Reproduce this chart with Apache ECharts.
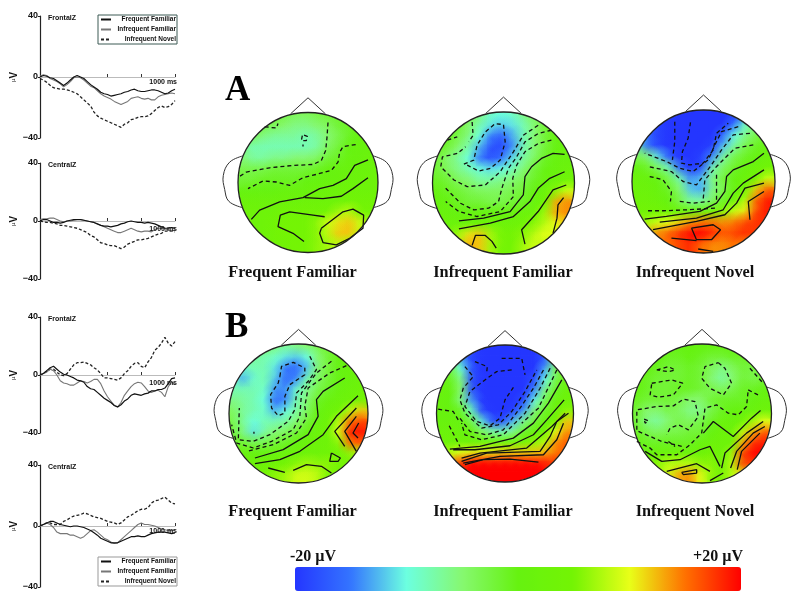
<!DOCTYPE html>
<html>
<head>
<meta charset="utf-8">
<style>
  html, body { margin: 0; padding: 0; background: #fff; }
  #main { width: 800px; height: 598px; }
</style>
<script src="https://cdn.jsdelivr.net/npm/echarts@6/dist/echarts.min.js"></script>
</head>
<body>
<div id="main"></div>
<script>
// ERP curves, sampled every 25 ms
const timeMs = [0,25,50,75,100,125,150,175,200,225,250,275,300,325,350,375,400,425,450,475,500,525,550,575,600,625,650,675,700,725,750,775,800,825,850,875,900,925,950,975,1000];

const aFzFreq = [0,1,0.5,-0.5,-1,-2.5,-4,-5.5,-4,-2,0,1,0,-1,-3,-5,-6.5,-8,-10,-11,-11.5,-12.5,-12,-11.5,-11,-10,-9.5,-8.5,-8,-9,-9.5,-9.5,-9,-8.5,-8.5,-9,-10,-11,-10.5,-9,-8];
const aFzInf = [0.5,1.5,1,-1,-2,-3,-4.5,-6.5,-5,-3,-0.5,0,-0.5,-2,-4,-6,-7,-9,-11,-12.5,-13.5,-14.5,-16,-17,-18,-17,-16,-14,-13.5,-13,-14,-14.5,-14,-15,-15,-13,-12,-11.5,-11,-10.5,-11];
const aFzNovel = [-1,-2,-3.5,-5.5,-7,-7.5,-8,-8,-8.5,-9,-10,-11,-13,-15,-17,-19,-23,-25.5,-27,-28,-29,-30,-31,-32,-33,-31,-30,-28,-27.5,-26.5,-26,-26,-25.5,-24,-22,-20,-19,-20,-19.5,-18,-15.5];

const aCzFreq = [0,1,1,0,-1,-1,-1.5,-1,0,0.5,1,1,1,0.5,0,-0.5,-1,-2,-3,-3.5,-3.5,-4,-3.5,-3,-2,-1.5,-0.5,0,-0.5,-1,-1,-1.5,-1,-1.5,-2,-3,-4,-5,-5,-4.5,-5];
const aCzInf = [1,1.5,1.5,2,2,1,0,-0.5,0,0,0.5,1,1,0.5,0,-0.5,-1,-2,-3,-4,-5,-6,-7,-8,-8,-7,-6,-5,-6,-7,-7.5,-7,-7,-7.5,-6,-5,-5,-5.5,-6,-7,-6];
const aCzNovel = [0,-0.5,-1,-1,-1.5,-2,-3,-3,-3.5,-4,-4.5,-5,-6,-7,-8,-10,-11,-13,-15,-15.5,-16.5,-17,-17,-18,-19,-18,-16,-15,-14,-13,-13,-12.5,-12,-11,-10,-9,-8.5,-7,-7,-7,-7.5];

const bFzFreq = [0,1,3,5,6,4,2,0.5,0,-1,-2,-3.5,-4,-5,-8,-9.5,-10,-12,-14,-16,-17.5,-19,-21,-22,-20.5,-18,-16.5,-14,-13,-13.5,-14,-13,-12.5,-11,-11,-10,-10,-9,-6,-2.5,-2];
const bFzInf = [0,1,2,4,3,0,-4,-5.5,-6,-7,-7,-5.5,-4,-4.5,-5.5,-4.5,-3,-3,-6,-11,-15,-18,-21,-22,-19,-14,-11,-8,-6,-5,-5.5,-8,-11,-12,-11,-10.5,-12,-15,-8,-5,-6.5];
const bFzNovel = [0,1,2.5,4,4,2,0,-0.5,1,4,7,8.5,8.5,9,8,7,5,3.5,1,-2,-2,-2.5,-3,-3.5,-2,1,3,6,8,8.5,6,5,9,12,17,19,22,26,22,20,23];

const bCzFreq = [0,1,2,3,3,2,1,0.5,0,-0.5,0,0,-0.5,-1,-2,-3,-4.5,-6,-8,-9,-10,-11,-11,-11,-10,-9,-8,-7,-7,-6.5,-7,-7,-6,-5,-4.5,-4,-4,-4,-4.5,-5,-4.5];
const bCzInf = [0,1,2,1,-1,-4,-5,-5,-5,-6,-6,-7,-8,-7,-5,-3,-2.5,-4,-6,-8,-9,-10.5,-11.5,-11,-9,-7,-5,-3,-1,1,2,1,1,0.5,0,-1,-2,-2.5,-3,-3,-2.5];
const bCzNovel = [0,1,2,2,1,1,1,3,4,5.5,6.5,7,7.5,8.5,8,7,6,5.5,5,4,3,2.5,2,1,2,4,6,7,8.5,10,11,11,12,15,16.5,17,18,19,17,15,14.5];

const conditionNames = ['Frequent Familiar', 'Infrequent Familiar', 'Infrequent Novel'];

// scalp potentials in µV, 13 x 13 cells, first row is the front of the head
const _ = null;
const scalpA1 = [
  [_,_,_,-2,-3,-4,-4,-3,-2,-1,_,_,_],
  [_,-2,-3,-4,-5,-6,-6,-5,-4,-2,-1,0,_],
  [-3,-4,-6,-7,-7,-7,-8,-7,-5,-3,-1,0,0],
  [-6,-8,-8,-8,-8,-8,-8,-7,-4,-2,0,1,1],
  [-5,-7,-7,-6,-6,-5,-5,-4,-2,-1,1,1,2],
  [-3,-3,-3,-2,-2,-2,-2,-1,0,1,1,2,2],
  [-2,-2,-1,-1,-1,-1,0,0,1,1,2,2,3],
  [0,0,0,0,1,1,1,2,2,3,3,3,3],
  [2,2,2,2,2,2,3,3,3,3,4,4,4],
  [3,3,3,3,4,4,4,4,5,7,8,5,5],
  [3,3,3,4,5,5,5,6,9,11,12,9,6],
  [_,3,3,4,5,5,5,6,8,12,12,8,_],
  [_,_,_,4,4,5,5,6,7,8,7,_,_]
];
const scalpA2 = [
  [_,_,_,-3,-6,-9,-10,-9,-6,-3,_,_,_],
  [_,-1,-2,-5,-8,-11,-12,-11,-8,-5,-2,0,_],
  [-1,-1,-3,-6,-10,-15,-17,-13,-8,-5,-2,0,1],
  [-1,-2,-5,-8,-13,-18,-18,-14,-8,-5,-2,0,1],
  [-2,-5,-7,-10,-15,-18,-15,-11,-7,-4,-1,1,1],
  [-2,-4,-6,-8,-10,-11,-10,-8,-5,-2,0,1,2],
  [-1,-2,-4,-5,-7,-7,-6,-5,-3,-1,1,2,4],
  [0,-1,-2,-3,-4,-4,-4,-3,-2,0,2,6,9],
  [0,0,-1,-2,-2,-3,-3,-2,-1,1,4,13,14],
  [1,1,0,0,0,0,0,1,2,3,7,13,14],
  [2,2,2,2,3,3,3,3,4,6,8,10,12],
  [_,4,7,11,12,7,5,5,6,8,10,9,_],
  [_,_,_,13,12,7,5,5,7,9,8,_,_]
];
const scalpA3 = [
  [_,_,_,-19,-20,-20,-20,-20,-20,-19,_,_,_],
  [_,-17,-19,-20,-20,-20,-20,-20,-20,-15,-9,-4,_],
  [-10,-16,-19,-20,-20,-20,-20,-20,-16,-10,-6,-3,-1],
  [-8,-15,-19,-20,-20,-20,-20,-19,-12,-7,-3,-1,0],
  [-3,-5,-11,-17,-20,-20,-19,-14,-7,-3,-1,0,2],
  [0,-1,-4,-8,-16,-20,-18,-8,-4,-1,1,2,4],
  [2,1,0,-3,-8,-14,-12,-6,-2,0,2,5,9],
  [2,2,1,-1,-5,-12,-13,-6,-3,1,4,12,16],
  [3,3,2,0,-3,-7,-7,-4,-1,3,8,16,19],
  [4,4,4,3,2,2,3,4,6,9,11,17,19],
  [6,7,9,10,12,14,15,15,14,15,17,18,18],
  [_,12,14,16,18,20,20,18,16,17,18,17,_],
  [_,_,_,15,17,18,15,14,14,15,14,_,_]
];
const scalpB1 = [
  [_,_,_,-4,-6,-7,-6,-5,-3,-1,_,_,_],
  [_,-5,-7,-8,-9,-11,-12,-10,-5,-2,0,1,_],
  [-7,-9,-8,-8,-11,-15,-16,-12,-5,-2,0,1,2],
  [-9,-13,-9,-8,-12,-16,-14,-8,-4,-2,0,1,2],
  [-8,-8,-8,-9,-14,-14,-9,-6,-3,-1,1,2,3],
  [-6,-7,-8,-10,-16,-14,-8,-5,-1,1,2,3,5],
  [-4,-7,-8,-9,-13,-10,-7,-4,0,2,4,8,12],
  [-3,-7,-10,-8,-8,-7,-5,-2,1,3,8,15,17],
  [-2,-6,-11,-7,-5,-4,-2,0,2,4,10,19,19],
  [-1,-2,-3,-3,-2,-1,0,2,3,3,6,15,16],
  [1,1,0,0,1,2,2,3,3,4,4,6,8],
  [_,2,3,3,4,5,6,7,6,6,5,5,_],
  [_,_,_,5,6,7,9,9,8,5,_,_,_]
];
const scalpB2 = [
  [_,_,_,-19,-20,-20,-20,-20,-20,-20,_,_,_],
  [_,-5,-14,-19,-20,-20,-20,-20,-20,-20,-17,-6,_],
  [0,-3,-10,-18,-20,-20,-20,-20,-20,-20,-13,-4,0],
  [1,-1,-6,-18,-20,-20,-20,-20,-20,-18,-10,-3,1],
  [1,0,-5,-18,-20,-20,-20,-20,-20,-14,-6,-1,2],
  [1,0,-6,-14,-20,-20,-20,-20,-18,-10,-3,1,3],
  [1,0,-1,-9,-19,-20,-20,-19,-13,-5,-1,3,6],
  [1,1,0,-3,-11,-18,-18,-12,-6,-2,1,5,12],
  [2,2,1,0,-4,-7,-8,-6,-1,1,4,10,14],
  [3,3,3,3,3,3,4,4,5,6,8,14,16],
  [6,8,10,11,11,11,12,12,12,12,13,15,16],
  [_,14,18,20,20,20,20,20,20,20,19,17,_],
  [_,_,_,20,20,20,20,20,20,20,_,_,_]
];
const scalpB3 = [
  [_,_,_,0,0,0,0,0,0,0,_,_,_],
  [_,0,0,-1,-1,0,-1,-2,-2,-1,-1,-1,_],
  [0,0,-1,-2,-2,-1,-2,-4,-6,-4,-2,-3,-1],
  [0,-1,-2,-2,-2,-1,-2,-5,-7,-5,-2,-3,-2],
  [0,-1,-2,-2,-1,-1,-2,-3,-4,-3,-1,-1,0],
  [-1,-2,-2,-2,-3,-5,-5,-2,-1,-1,-1,0,1],
  [-2,-5,-5,-3,-4,-6,-6,-3,-1,0,1,1,3],
  [-2,-6,-7,-5,-3,-4,-3,-1,2,1,4,7,10],
  [-1,-3,-4,-3,-3,-2,-2,0,2,3,8,13,16],
  [0,-1,-1,-1,-1,-1,1,2,3,3,13,18,19],
  [1,1,2,2,3,2,3,5,2,7,17,20,20],
  [_,5,6,8,8,8,6,6,3,8,17,17,_],
  [_,_,_,9,13,14,10,6,5,8,10,_,_]
];

// isolines, in each map's own trace units (see mapLayout)
const dashedA1 = [
  [[165,168],[200,172],[205,158]],
  [[355,155],[352,200],[348,240],[335,270],[310,282],[250,285],[180,292],[110,305],[90,318]],
  [[438,222],[400,228],[390,245],[385,275],[365,300],[320,312],[280,322],[240,345],[200,335],[160,332],[115,355]],
  [[278,195],[275,210],[290,210],[293,197],[280,192]],
  [[280,222],[280,228]]
];
const solidA1 = [
  [[475,268],[435,285],[410,325],[370,345],[330,355],[280,382],[210,395],[150,420],[125,448]],
  [[475,322],[430,355],[395,378],[340,385],[285,382]],
  [[283,515],[250,490],[205,470],[212,435],[240,425],[310,435],[345,440]],
  [[335,475],[400,425],[430,417],[462,435],[460,475],[420,505],[380,525],[340,518],[330,490],[335,475]]
];
const dashedA2 = [
  [[185,110],[188,150],[175,170]],
  [[110,165],[140,155]],
  [[160,237],[190,225],[200,180],[225,140],[255,115],[280,118],[285,170],[270,225],[240,250],[205,258],[170,240]],
  [[385,120],[340,150],[310,200],[270,260],[225,300],[170,305],[130,285],[90,245],[95,215],[140,205],[165,185]],
  [[425,135],[385,145],[345,170],[320,215],[295,250],[275,310],[265,350],[235,370],[190,375],[150,355],[105,310]],
  [[425,165],[385,175],[345,200],[320,240],[308,280],[310,335],[270,380],[200,395],[145,380],[105,350]]
];
const solidA2 = [
  [[465,208],[430,205],[395,220],[365,245],[345,275],[340,330],[300,380],[220,400],[145,408]],
  [[465,260],[420,280],[385,310],[360,350],[310,395],[240,415],[145,432]],
  [[470,300],[430,315],[385,380],[335,435],[345,478]],
  [[462,338],[445,360],[442,400],[430,445]],
  [[185,482],[195,452],[225,452],[245,470],[258,490]]
];
const dashedA3 = [
  [[225,110],[225,170],[218,225]],
  [[272,112],[265,160],[248,200],[245,235],[270,240],[310,235],[340,195],[350,145],[385,115]],
  [[415,125],[365,140],[345,180],[325,225],[280,260],[240,250],[200,230],[135,205]],
  [[450,145],[400,150],[365,195],[335,240],[290,300],[250,290],[215,260],[145,245]],
  [[460,180],[405,190],[380,215],[350,245],[315,285],[310,345]],
  [[150,275],[190,285],[215,320],[212,350]],
  [[350,270],[350,345]],
  [[240,350],[280,355],[330,350]],
  [[145,378],[190,378],[265,375],[350,370]]
];
const solidA3 = [
  [[492,205],[460,230],[400,255],[380,275],[375,320],[350,355],[300,380],[200,395],[135,403]],
  [[492,255],[430,295],[400,325],[370,375],[290,400],[180,412]],
  [[492,295],[435,310],[410,355],[375,390],[290,410],[160,435]],
  [[492,320],[445,350],[450,405]],
  [[275,430],[340,420],[362,435],[335,465],[290,465],[275,430]],
  [[215,460],[290,468]],
  [[295,493],[340,500]]
];
const dashedB1 = [
  [[210,200],[215,170],[250,158],[285,175],[285,195],[240,225],[225,260],[225,310],[205,318],[185,295],[182,255],[205,220],[210,200]],
  [[300,140],[320,180],[295,215],[260,250],[255,300],[235,335],[180,375],[130,395],[85,390],[88,295]],
  [[365,155],[320,190],[275,250],[270,320],[250,360],[185,395],[130,415],[80,400],[65,345]],
  [[410,168],[360,190],[295,235],[285,290],[290,325],[260,370],[190,405],[110,425]],
  [[132,366],[132,372]]
];
const solidB1 = [
  [[405,205],[340,245],[320,270],[325,320],[295,375],[220,420],[135,445]],
  [[445,258],[380,320],[340,375],[270,425],[210,450],[135,462]],
  [[440,295],[375,365],[405,410]],
  [[440,320],[405,365],[440,425]],
  [[447,340],[430,370],[445,385]],
  [[365,430],[392,445],[385,455],[360,455],[365,430]],
  [[175,475],[225,488]],
  [[250,482],[290,465],[335,470],[365,490]]
];
const dashedB2 = [
  [[305,150],[260,155],[225,180],[180,215],[165,260],[200,305],[240,318],[270,295],[285,240],[315,195]],
  [[275,115],[335,115],[345,165]],
  [[165,140],[190,170],[160,205],[150,240],[165,280],[215,325],[265,315],[305,275],[345,215],[380,150]],
  [[195,125],[232,140],[230,160]],
  [[400,150],[370,205],[330,265],[280,330],[230,345],[180,335],[150,295]],
  [[420,145],[390,205],[345,280],[280,345],[215,360],[165,345],[155,310]],
  [[85,268],[130,275],[145,300]],
  [[118,318],[140,360],[150,380]],
  [[440,150],[385,265],[335,310]]
];
const solidB2 = [
  [[455,180],[415,250],[370,310],[310,355],[210,380],[120,388]],
  [[462,240],[410,300],[370,345],[300,378],[195,390],[130,390]],
  [[465,280],[425,320],[385,355],[350,385],[210,400],[155,415]],
  [[475,280],[440,305],[420,350],[390,395],[230,400],[155,425]],
  [[460,310],[440,360],[400,405],[270,410],[160,430]],
  [[385,427],[300,418],[220,420],[165,435]]
];
const dashedB3 = [
  [[170,150],[205,140],[225,150],[205,155],[170,150]],
  [[155,190],[215,180],[248,190],[220,225],[175,232],[150,225],[155,190]],
  [[355,128],[375,145],[395,190],[370,225],[330,205],[305,175],[315,140],[355,128]],
  [[450,145],[490,190]],
  [[445,210],[480,228]],
  [[110,330],[110,270],[170,260],[220,258],[250,238],[285,245],[295,290],[265,330],[235,315],[210,325],[200,345]],
  [[132,298],[145,303],[135,310],[132,298]],
  [[115,335],[150,350],[185,365],[245,380]],
  [[205,365],[225,380]],
  [[110,365],[150,385],[170,405],[230,405],[270,375],[305,340],[315,265],[350,255],[385,280],[415,285],[440,260],[445,210]]
];
const solidB3 = [
  [[135,395],[185,425],[240,420],[300,390],[330,380],[360,440]],
  [[310,340],[340,305],[400,350],[455,295],[482,272]],
  [[365,445],[375,400],[440,340],[490,305]],
  [[392,445],[410,395],[460,340],[495,320]],
  [[412,450],[425,395],[480,340]],
  [[200,455],[290,432],[330,455]],
  [[245,458],[290,450],[290,460],[250,465],[245,458]],
  [[330,483],[370,460]]
];

const colorStops = ['#2436ff','#3474ff','#6cffe0','#86f870','#66f210','#74f404','#e8ff18','#ff7000','#ff0000'];
const cellIndex = ['0','1','2','3','4','5','6','7','8','9','10','11','12'];

const chart = echarts.init(document.getElementById('main'), null, { renderer: 'canvas' });

const FONT_SANS = '"Liberation Sans", Arial, sans-serif';
const FONT_SERIF = '"Liberation Serif", "Times New Roman", serif';

const curvePanels = [
  { title: 'FrontalZ', top: 16, bottom: 138, msY: 82, values: [aFzFreq, aFzInf, aFzNovel] },
  { title: 'CentralZ', top: 163, bottom: 279, msY: 229, values: [aCzFreq, aCzInf, aCzNovel] },
  { title: 'FrontalZ', top: 317, bottom: 433, msY: 383, values: [bFzFreq, bFzInf, bFzNovel] },
  { title: 'CentralZ', top: 465, bottom: 587, msY: 531, values: [bCzFreq, bCzInf, bCzNovel] }
];

// tx/ty/tw/th: trace-unit box of the circle for the isoline arrays
const mapLayout = [
  { cx: 308, cy: 182.5, r: 70, tx: 85, tw: 420, ty: 125, th: 423, cells: scalpA1, dashed: dashedA1, solid: solidA1 },
  { cx: 503.5, cy: 183, r: 71, tx: 65, tw: 430, ty: 80, th: 428, cells: scalpA2, dashed: dashedA2, solid: solidA2 },
  { cx: 703.5, cy: 181.5, r: 71.5, tx: 97, tw: 428, ty: 75, th: 430, cells: scalpA3, dashed: dashedA3, solid: solidA3 },
  { cx: 298.5, cy: 413.5, r: 69.5, tx: 57, tw: 418, ty: 103, th: 417, cells: scalpB1, dashed: dashedB1, solid: solidB1 },
  { cx: 505, cy: 413.5, r: 68.5, tx: 80, tw: 410, ty: 75, th: 412, cells: scalpB2, dashed: dashedB2, solid: solidB2 },
  { cx: 702, cy: 413.5, r: 69.5, tx: 97, tw: 418, ty: 72, th: 418, cells: scalpB3, dashed: dashedB3, solid: solidB3 }
];

const mapCaptions = [
  [292.5, 273, conditionNames[0]], [503, 273, conditionNames[1]], [695, 273, conditionNames[2]],
  [292.5, 512, conditionNames[0]], [503, 512, conditionNames[1]], [695, 512, conditionNames[2]]
];

const grids = [], xAxes = [], yAxes = [], series = [], graphics = [];
const scalpSeriesIndex = [];

function curveStyle(k) {
  if (k === 0) return { color: '#111', width: 1.2, type: 'solid' };
  if (k === 1) return { color: '#777', width: 1.1, type: 'solid' };
  return { color: '#222', width: 1.3, type: [3, 2] };
}

// left column: the four ERP panels
curvePanels.forEach(function (p) {
  const idx = grids.length;
  grids.push({ left: 40, width: 135, top: p.top, height: p.bottom - p.top });
  xAxes.push({
    gridIndex: idx, type: 'value', min: 0, max: 1000, interval: 250,
    axisLine: { onZero: true, lineStyle: { color: '#bbb', width: 1 } },
    axisTick: { inside: true, length: 3, customValues: [500, 750, 1000], lineStyle: { color: '#333' } },
    splitLine: { show: false },
    axisLabel: { show: false }
  });
  yAxes.push({
    gridIndex: idx, type: 'value', min: -40, max: 40, interval: 40,
    axisLine: { show: true, lineStyle: { color: '#222', width: 1.2 } },
    axisTick: { show: true, length: 2, lineStyle: { color: '#222' } },
    splitLine: { show: false },
    axisLabel: {
      margin: 2, fontSize: 9, fontWeight: 'bold', fontFamily: FONT_SANS, color: '#111',
      formatter: function (v) { return String(v).replace('-', '\u2212'); }
    },
    name: '{m|µ}{v|V}', nameLocation: 'middle', nameRotate: 90, nameGap: 12,
    nameTextStyle: {
      color: '#111', fontFamily: FONT_SANS,
      rich: { m: { fontSize: 6 }, v: { fontSize: 10, fontWeight: 'bold' } }
    }
  });
  p.values.forEach(function (vals, k) {
    series.push({
      name: conditionNames[k], type: 'line', xAxisIndex: idx, yAxisIndex: idx,
      data: timeMs.map(function (t, i) { return [t, vals[i]]; }),
      symbol: 'none', lineStyle: curveStyle(k), itemStyle: { color: curveStyle(k).color },
      z: 4 - k, animation: false, silent: true
    });
  });
  graphics.push({
    type: 'text', left: 48, top: p.top - 1, z: 6,
    style: { text: p.title, font: 'bold 7px ' + FONT_SANS, fill: '#111' }
  });
  graphics.push({
    type: 'text', x: 177, y: p.msY, z: 6,
    style: { text: '1000 ms', font: 'bold 7px ' + FONT_SANS, fill: '#111', align: 'right', verticalAlign: 'middle' }
  });
});

// right side: six scalp maps
mapLayout.forEach(function (m) {
  const boxLeft = m.cx - m.r, boxTop = m.cy - m.r, boxSize = m.r * 2;

  const cellGrid = grids.length;
  grids.push({ left: boxLeft, top: boxTop, width: boxSize, height: boxSize });
  xAxes.push({ gridIndex: cellGrid, type: 'category', data: cellIndex, show: false });
  yAxes.push({ gridIndex: cellGrid, type: 'category', data: cellIndex, inverse: true, show: false });

  const cellData = [];
  m.cells.forEach(function (row, y) {
    row.forEach(function (v, x) { if (v !== null) cellData.push([x, y, v]); });
  });

  scalpSeriesIndex.push(series.length);
  series.push({
    type: 'heatmap', xAxisIndex: cellGrid, yAxisIndex: cellGrid, data: cellData,
    z: 1, animation: false, silent: true, progressive: 0
  });

  // soft discs on top of the cells so the field reads as a continuous map
  scalpSeriesIndex.push(series.length);
  series.push({
    type: 'custom', xAxisIndex: cellGrid, yAxisIndex: cellGrid, data: cellData,
    encode: { x: 0, y: 1 }, z: 2, animation: false, silent: true, progressive: 0,
    renderItem: function (params, api) {
      const c = api.coord([api.value(0), api.value(1)]);
      const size = api.size([1, 1]);
      const col = api.visual('color');
      return {
        type: 'circle',
        shape: { cx: c[0], cy: c[1], r: size[0] * 1.4 },
        style: {
          fill: {
            type: 'radial', x: 0.5, y: 0.5, r: 0.5,
            colorStops: [
              { offset: 0, color: echarts.color.modifyAlpha(col, 0.9) },
              { offset: 0.45, color: echarts.color.modifyAlpha(col, 0.5) },
              { offset: 1, color: echarts.color.modifyAlpha(col, 0) }
            ]
          }
        }
      };
    }
  });

  // isolines on a value grid over the same box
  const traceGrid = grids.length;
  grids.push({ left: boxLeft, top: boxTop, width: boxSize, height: boxSize });
  xAxes.push({ gridIndex: traceGrid, type: 'value', min: m.tx, max: m.tx + m.tw, show: false });
  yAxes.push({ gridIndex: traceGrid, type: 'value', min: m.ty, max: m.ty + m.th, inverse: true, show: false });
  m.dashed.forEach(function (line) {
    series.push({
      type: 'line', xAxisIndex: traceGrid, yAxisIndex: traceGrid, data: line, symbol: 'none',
      lineStyle: { color: '#111', width: 1.3, type: [4, 3] }, z: 4, animation: false, silent: true
    });
  });
  m.solid.forEach(function (line) {
    series.push({
      type: 'line', xAxisIndex: traceGrid, yAxisIndex: traceGrid, data: line, symbol: 'none',
      lineStyle: { color: '#111', width: 1.3 }, z: 4, animation: false, silent: true
    });
  });

  // mask outside the head, then head, nose and ears
  graphics.push({
    type: 'ring', z: 3, silent: true,
    shape: { cx: m.cx, cy: m.cy, r: m.r + 30, r0: m.r },
    style: { fill: '#fff' }
  });
  graphics.push({
    type: 'circle', z: 5, silent: true,
    shape: { cx: m.cx, cy: m.cy, r: m.r },
    style: { fill: 'none', stroke: '#222', lineWidth: 1.3 }
  });
  const headLine = { stroke: '#333', lineWidth: 1, fill: 'none' };
  function toPx(pts, sx) {
    return pts.map(function (p) { return [m.cx + sx * p[0] * m.r, m.cy + p[1] * m.r]; });
  }
  graphics.push({
    type: 'polyline', z: 5, silent: true,
    shape: { points: toPx([[-0.25, -0.98], [0, -1.21], [0.25, -0.98]], 1) }, style: headLine
  });
  [-1, 1].forEach(function (sx) {
    graphics.push({
      type: 'polyline', z: 5, silent: true,
      shape: {
        smooth: 0.4,
        points: toPx([[0.93, -0.38], [1.12, -0.29], [1.21, -0.1], [1.19, 0.1], [1.13, 0.27], [0.93, 0.36]], sx)
      },
      style: headLine
    });
  });
});

mapCaptions.forEach(function (c) {
  graphics.push({
    type: 'text', x: c[0], y: c[1], z: 6, silent: true,
    style: { text: c[2], font: 'bold 16.3px ' + FONT_SERIF, fill: '#111', align: 'center', verticalAlign: 'middle' }
  });
});

[['A', 225, 91], ['B', 225, 328]].forEach(function (t) {
  graphics.push({
    type: 'text', x: t[1], y: t[2], z: 6, silent: true,
    style: { text: t[0], font: 'bold 35px ' + FONT_SERIF, fill: '#000', align: 'left', verticalAlign: 'middle' }
  });
});
graphics.push({
  type: 'text', x: 290, y: 557, z: 6, silent: true,
  style: { text: '-20 µV', font: 'bold 16px ' + FONT_SERIF, fill: '#111', align: 'left', verticalAlign: 'middle' }
});
graphics.push({
  type: 'text', x: 743, y: 557, z: 6, silent: true,
  style: { text: '+20 µV', font: 'bold 16px ' + FONT_SERIF, fill: '#111', align: 'right', verticalAlign: 'middle' }
});

function curveLegend(left, top, border) {
  return {
    left: left, top: top, orient: 'vertical', data: conditionNames, selectedMode: false,
    itemWidth: 10, itemHeight: 6, itemGap: 3, padding: [1, 1, 1, 2],
    itemStyle: { opacity: 0 },
    backgroundColor: '#fff', borderColor: border, borderWidth: 1,
    formatter: function (name) { return '{r|' + name + '}'; },
    textStyle: {
      rich: { r: { width: 60, align: 'right', fontSize: 6.5, fontWeight: 'bold', fontFamily: FONT_SANS, color: '#111' } }
    },
    z: 8
  };
}

chart.setOption({
  animation: false,
  backgroundColor: '#fff',
  grid: grids,
  xAxis: xAxes,
  yAxis: yAxes,
  legend: [curveLegend(98, 15, '#3d5a55'), curveLegend(98, 557, '#999')],
  visualMap: {
    type: 'continuous', min: -20, max: 20, orient: 'horizontal',
    left: 295, top: 567, itemWidth: 24, itemHeight: 446, padding: 0,
    calculable: false, hoverLink: false, realtime: false, text: null,
    dimension: 2, seriesIndex: scalpSeriesIndex,
    inRange: { color: colorStops }
  },
  graphic: { elements: graphics },
  series: series
});
</script>
</body>
</html>
